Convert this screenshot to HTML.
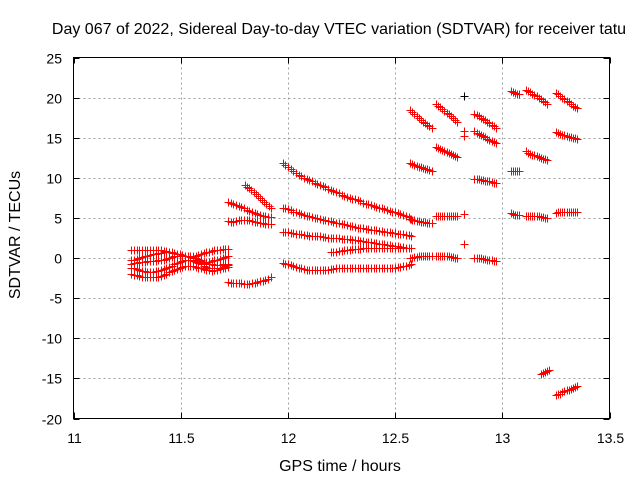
<!DOCTYPE html>
<html><head><meta charset="utf-8"><style>
html,body{margin:0;padding:0;background:#fff;}
svg{display:block;font-family:"Liberation Sans",sans-serif;}
</style></head><body>
<svg id="chart" width="640" height="480" xmlns="http://www.w3.org/2000/svg">
<text x="339" y="34" font-size="16" text-anchor="middle">Day 067 of 2022, Sidereal Day-to-day VTEC variation (SDTVAR) for receiver tatu</text>
<text x="340" y="471" font-size="16" text-anchor="middle">GPS time / hours</text>
<text x="20" y="235" font-size="16" text-anchor="middle" transform="rotate(-90 20 235)">SDTVAR / TECUs</text>
<g id="grid"></g>
<g id="ticks"></g>
<g id="marks"></g>
<rect x="73.5" y="57.5" width="536" height="361" fill="none" stroke="#000" stroke-width="1"/>
</svg>
<script>
const xTicks = [11, 11.5, 12, 12.5, 13, 13.5];
const xTickLabels = ["11", "11.5", "12", "12.5", "13", "13.5"];
const yTicks = [-20, -15, -10, -5, 0, 5, 10, 15, 20, 25];
const yTickLabels = ["-20", "-15", "-10", "-5", "0", "5", "10", "15", "20", "25"];

// each segment: start hour, step in hours, y values (TECU)
const segStarts = [11.27,11.27,11.27,11.27,11.27, 11.80,11.72,11.72,11.72, 11.975,11.975,11.975,12.2,11.975,
  12.57,12.57,12.57,12.57, 12.69,12.69,12.69,12.69, 12.87,12.87,12.87,12.87, 13.04,13.04,13.04,
  13.11,13.11,13.11,13.18, 13.25,13.25,13.25,13.25];
const segSteps = [0.025,0.025,0.025,0.025,0.025, 0.02,0.025,0.025,0.025, 0.025,0.025,0.025,0.025,0.025,
  0.02,0.02,0.02,0.02, 0.02,0.02,0.02,0.02, 0.02,0.02,0.02,0.02, 0.02,0.02,0.02,
  0.02,0.02,0.02,0.02, 0.02,0.02,0.02,0.02];
const segValues = [
  [1.0,1.0,1.0,1.0,1.0,1.0,0.9,0.8,0.6,0.5,0.3,0.2,0.3,0.5,0.7,0.9,1.0,1.1,1.1],
  [-0.3,-0.1,0.1,0.3,0.5,0.6,0.7,0.7,0.6,0.5,0.3,0.1,-0.2,-0.4,-0.5,-0.4,-0.2,0,0.2],
  [-0.7,-0.6,-0.5,-0.4,-0.4,-0.3,-0.2,0,0.2,0.3,0.3,0.2,0,-0.3,-0.6,-0.8,-0.9,-0.8,-0.7],
  [-1.2,-1.4,-1.6,-1.7,-1.7,-1.6,-1.4,-1.1,-0.8,-0.5,-0.3,-0.3,-0.5,-0.8,-1.1,-1.3,-1.3,-1.1,-0.9],
  [-2.0,-2.1,-2.3,-2.4,-2.4,-2.3,-2.1,-1.8,-1.5,-1.2,-1.0,-1.0,-1.1,-1.3,-1.5,-1.6,-1.5,-1.3,-1.1],
  [9.1,8.7,8.2,7.7,7.2,6.7,6.2],
  [7.0,6.8,6.5,6.2,5.9,5.6,5.4,5.2,5.1],
  [4.6,4.5,4.7,4.8,4.7,4.5,4.4,4.3,4.2],
  [-3.0,-3.1,-3.1,-3.2,-3.2,-3.1,-2.9,-2.7,-2.4],
  [11.8,11.3,10.8,10.4,10.0,9.7,9.4,9.1,8.8,8.5,8.2,7.9,7.6,7.4,7.2,6.9,6.7,6.5,6.3,6.1,5.9,5.7,5.5,5.3,4.9],
  [6.3,6.1,5.8,5.6,5.4,5.2,5.0,4.9,4.7,4.6,4.4,4.3,4.1,4.0,3.8,3.7,3.6,3.5,3.4,3.3,3.2,3.1,3.0,2.9,2.8],
  [3.2,3.2,3.1,3.0,2.9,2.8,2.7,2.7,2.6,2.5,2.5,2.4,2.4,2.3,2.2,2.1,2.0,1.9,1.8,1.7,1.6,1.5,1.4,1.3,1.2],
  [0.7,0.8,0.9,1.0,1.1,1.1,1.2,1.2,1.2,1.3,1.3,1.3,1.3,1.3,1.3,1.3],
  [-0.6,-0.8,-1.0,-1.2,-1.4,-1.5,-1.5,-1.5,-1.5,-1.4,-1.3,-1.2,-1.2,-1.2,-1.2,-1.2,-1.2,-1.2,-1.2,-1.2,-1.2,-1.2,-1.1,-1.0,-0.7],
  [18.4,18.0,17.5,17.0,16.6,16.2],
  [11.9,11.6,11.4,11.2,11.1,10.9],
  [4.9,4.7,4.6,4.5,4.4,4.4],
  [0.0,0.1,0.2,0.3,0.3,0.3],
  [19.2,18.8,18.3,17.9,17.4,17.0],
  [13.8,13.6,13.3,13.1,12.9,12.6],
  [5.2,5.2,5.2,5.2,5.2,5.2],
  [0.3,0.3,0.2,0.2,0.1,0.0],
  [18.0,17.7,17.3,17.0,16.6,16.2],
  [15.8,15.5,15.2,14.9,14.6,14.3],
  [9.9,9.8,9.7,9.6,9.5,9.3],
  [0.0,0.0,-0.1,-0.2,-0.3,-0.4],
  [20.8,20.6,20.4],
  [10.9,10.9,10.8],
  [5.6,5.4,5.4],
  [21.0,20.7,20.3,20.0,19.6,19.2],
  [13.3,13.0,12.8,12.6,12.4,12.2],
  [5.3,5.3,5.2,5.2,5.1,5.0],
  [-14.5,-14.2,-14.0],
  [20.6,20.2,19.8,19.4,19.0,18.7],
  [15.7,15.5,15.3,15.1,15.0,14.9],
  [5.6,5.8,5.8,5.8,5.8,5.7],
  [-17.1,-16.9,-16.6,-16.4,-16.2,-15.9]
];
const isolatedX = [12.82, 12.82, 12.82, 12.82, 12.82];
const isolatedY = [20.2, 15.9, 15.2, 5.5, 1.7];

const X0 = 73.5, X1 = 609.5, Y0 = 418.5, Y1 = 57.5;
const xMin = 11, xMax = 13.5, yMin = -20, yMax = 25;
function sx(v){ return X0 + (v - xMin) / (xMax - xMin) * (X1 - X0); }
function sy(v){ return Y0 - (v - yMin) / (yMax - yMin) * (Y0 - Y1); }
const NS = "http://www.w3.org/2000/svg";
function mk(tag, attrs, parent){ const e = document.createElementNS(NS, tag); for (const k in attrs) e.setAttribute(k, attrs[k]); parent.appendChild(e); return e; }

const grid = document.getElementById('grid'), ticks = document.getElementById('ticks'), marks = document.getElementById('marks');
xTicks.forEach((t, i) => {
  const x = Math.round(sx(t)) + 0.5;
  if (i > 0 && i < xTicks.length - 1) {
    const g = mk('line', {x1:x, x2:x, y1:Y1, y2:Y0, stroke:'#a0a0a0', 'stroke-dasharray':'2,3'}, grid);
    
    
  }
  const tk = mk('path', {d:`M${x} ${Y0}v-6M${x} ${Y1}v6`, stroke:'#000'}, ticks);
  
  
  const lb = mk('text', {x:x, y:443, 'font-size':14, 'text-anchor':'middle'}, ticks);
  lb.textContent = xTickLabels[i];
  
  
});
yTicks.forEach((t, i) => {
  const y = Math.round(sy(t)) + 0.5;
  if (i > 0 && i < yTicks.length - 1) {
    const g = mk('line', {x1:X0, x2:X1, y1:y, y2:y, stroke:'#a0a0a0', 'stroke-dasharray':'2,3'}, grid);
    
    
  }
  const tk = mk('path', {d:`M${X0} ${y}h6M${X1} ${y}h-6`, stroke:'#000'}, ticks);
  
  
  const lb = mk('text', {x:62, y:y + 5, 'font-size':14, 'text-anchor':'end'}, ticks);
  lb.textContent = yTickLabels[i];
  
  
});
function plus(xv, yv, color){
  const x = Math.round(sx(xv)) + 0.5, y = Math.round(sy(yv)) + 0.5;
  const p = mk('path', {d:`M${x-4} ${y}h8M${x} ${y-4}v8`, stroke:color, 'stroke-width':1}, marks);
  
  
}
segValues.forEach((ys, s) => {
  ys.forEach((v, i) => plus(segStarts[s] + i * segSteps[s], v, '#ff0000'));
  for (let i = 0; i < ys.length - 1; i++) plus(segStarts[s] + (i + 0.5) * segSteps[s], (ys[i] + ys[i+1]) / 2, '#ff0000');
});
isolatedX.forEach((x, i) => plus(x, isolatedY[i], i === 0 ? '#000' : '#ff0000'));
</script>
</body></html>
